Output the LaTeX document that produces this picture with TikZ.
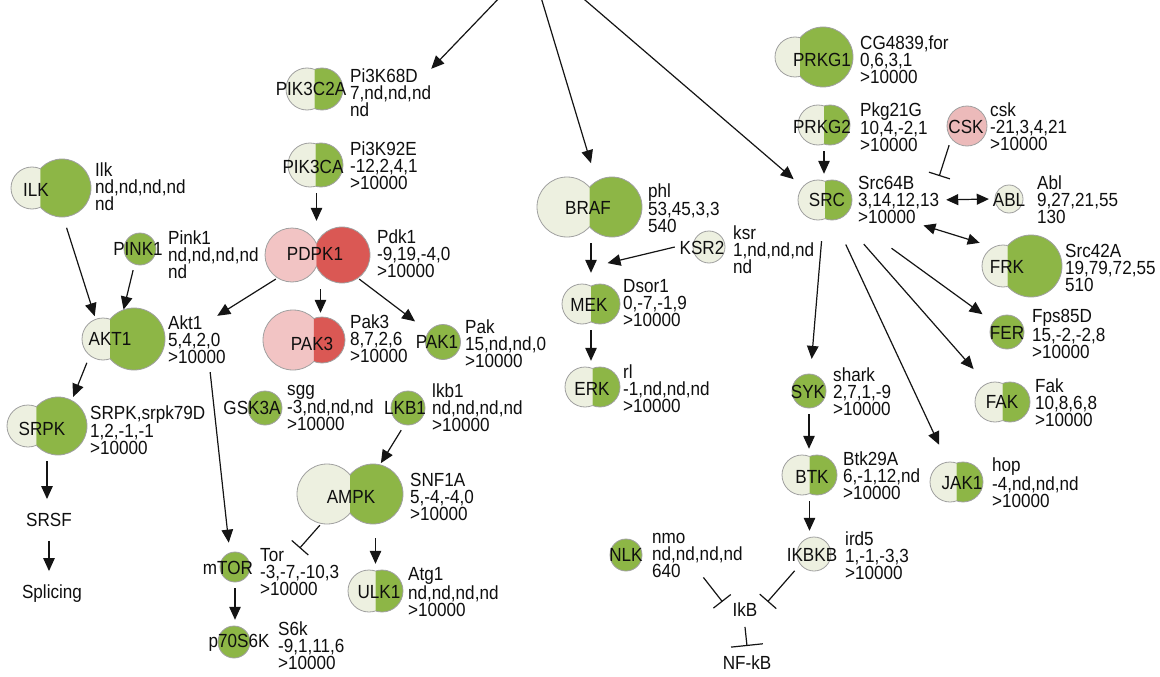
\documentclass[tikz,border=0pt]{standalone}
\usepackage{fontspec}
\setmainfont{Liberation Sans}[FakeStretch=0.9]
\usetikzlibrary{arrows.meta,shapes.geometric,calc}
\definecolor{gfill}{RGB}{141,182,70}
\definecolor{lfill}{RGB}{237,240,224}
\definecolor{pfill}{RGB}{242,196,196}
\definecolor{rfill}{RGB}{218,88,84}
\definecolor{cskfill}{RGB}{236,186,186}
\definecolor{ringgray}{RGB}{160,160,160}
\definecolor{linecol}{RGB}{20,20,20}
\definecolor{txt}{RGB}{15,15,15}
\newcommand\gfont{\fontsize{19}{17}\selectfont}
% two overlapping circles split along their common chord
\newcommand\genepair[7]{%
  \pgfmathsetmacro\gpxc{#1+((#4-#1)*(#4-#1)+#3*#3-#5*#5)/(2*(#4-#1))}%
  \begin{scope}
    \clip (0,-10) rectangle (\gpxc,700);
    \fill[#6] (#1,#2) circle[radius=#3pt];
    \draw[ring] (#1,#2) circle[radius=#3pt];
  \end{scope}
  \begin{scope}
    \clip (\gpxc,-10) rectangle (1200,700);
    \fill[#7] (#4,#2) circle[radius=#5pt];
    \draw[ring] (#4,#2) circle[radius=#5pt];
  \end{scope}}
\newcommand\genesingle[4]{%
  \fill[#4] (#1,#2) circle[radius=#3pt];
  \draw[ring] (#1,#2) circle[radius=#3pt];}
\tikzset{
  ring/.style={draw=ringgray, line width=0.8pt},
  gnode/.style={ellipse, inner sep=0pt, draw=none},
  glab/.style={inner sep=0pt, text height=13.5pt, text depth=0pt, font=\gfont, text=txt},
  info/.style={inner sep=0pt, align=left, anchor=west, font=\gfont, text=txt},
  plain/.style={inner xsep=10pt, inner ysep=14pt, text height=13.5pt, text depth=0pt, font=\gfont, text=txt},
  arr/.style={draw=linecol, line width=1.2pt, -{Triangle[length=13pt,width=11.5pt]}},
  darr/.style={draw=linecol, line width=1.2pt, {Triangle[length=12pt,width=11pt]}-{Triangle[length=12pt,width=11pt]}},
  inh/.style={draw=linecol, line width=1.2pt, -{Bar[width=22pt,line width=1.2pt]}},
}
\begin{document}
\begin{tikzpicture}[x=1pt,y=-1pt]
\useasboundingbox (0,0) rectangle (1160,677);
\fill[white] (0,0) rectangle (1160,677);

% ---------- circles ----------
\genepair{307}{89}{21}{322}{21}{lfill}{gfill}      % PIK3C2A
\genepair{310}{165}{22}{321}{22}{lfill}{gfill}     % PIK3CA
\genepair{32}{188}{21}{62}{29}{lfill}{gfill}       % ILK
\genesingle{140}{249}{16}{gfill}                   % PINK1
\genepair{292}{255}{27}{342}{28}{pfill}{rfill}     % PDPK1
\genepair{103}{339}{21}{134}{31}{lfill}{gfill}     % AKT1
\genepair{293}{340}{30}{322}{23}{pfill}{rfill}     % PAK3
\genesingle{443}{342}{17.5}{gfill}                 % PAK1
\genepair{28}{426}{21}{58}{29}{lfill}{gfill}       % SRPK
\genesingle{265}{408}{17}{gfill}                   % GSK3A
\genesingle{408}{408}{17}{gfill}                   % LKB1
\genepair{327}{494}{30}{373}{30}{lfill}{gfill}     % AMPK
\genepair{369}{591}{21}{382}{21}{lfill}{gfill}     % ULK1
\genesingle{235}{567}{15}{gfill}                   % mTOR
\genesingle{234}{642}{16}{gfill}                   % p70S6K
\genepair{567}{207}{30}{612}{30}{lfill}{gfill}     % BRAF
\genesingle{709}{247}{16}{lfill}                   % KSR2
\genepair{582}{304}{20}{600}{20}{lfill}{gfill}     % MEK
\genepair{585}{387}{20}{600}{20}{lfill}{gfill}     % ERK
\genepair{795}{57}{20}{823}{30}{lfill}{gfill}      % PRKG1
\genepair{818}{125}{20}{830}{20}{lfill}{gfill}     % PRKG2
\genesingle{967}{126}{20}{cskfill}                 % CSK
\genepair{818}{200}{20}{832}{20}{lfill}{gfill}     % SRC
\genesingle{1009}{199}{14}{lfill}                  % ABL
\genepair{1003}{266}{21}{1031}{31}{lfill}{gfill}   % FRK
\genesingle{1007}{332}{17}{gfill}                  % FER
\genepair{995}{402}{20}{1010}{20}{lfill}{gfill}    % FAK
\genepair{950}{482}{20}{963}{20}{lfill}{gfill}     % JAK1
\genesingle{809}{391}{17}{gfill}                   % SYK
\genepair{802}{475}{20}{817}{20}{lfill}{gfill}     % BTK
\genesingle{814}{554}{17}{lfill}                   % IKBKB
\genesingle{626}{555}{16}{gfill}                   % NLK

% ---------- gene nodes (outline areas used by connectors) ----------
\node[gnode,minimum width=69pt,minimum height=54pt] (PIK3C2A) at (314.5,89) {};
\node[gnode,minimum width=65pt,minimum height=56pt] (PIK3CA) at (316.5,165) {};
\node[gnode,minimum width=92pt,minimum height=71pt] (ILK) at (51,188) {};
\node[gnode,minimum width=44pt,minimum height=44pt] (PINK1) at (140,249) {};
\node[gnode,minimum width=117pt,minimum height=68pt] (PDPK1) at (317.5,255) {};
\node[gnode,minimum width=95pt,minimum height=74pt] (AKT1) at (123.5,339) {};
\node[gnode,minimum width=94pt,minimum height=72pt] (PAK3) at (304,340) {};
\node[gnode,minimum width=47pt,minimum height=47pt] (PAK1) at (443,342) {};
\node[gnode,minimum width=92pt,minimum height=70pt] (SRPK) at (47,426) {};
\node[gnode,minimum width=46pt,minimum height=46pt] (GSK3A) at (265,408) {};
\node[gnode,minimum width=46pt,minimum height=46pt] (LKB1) at (408,408) {};
\node[gnode,minimum width=118pt,minimum height=72pt] (AMPK) at (350,494) {};
\node[gnode,minimum width=67pt,minimum height=54pt] (ULK1) at (375.5,591) {};
\node[gnode,minimum width=42pt,minimum height=42pt] (mTOR) at (235,567) {};
\node[gnode,minimum width=44pt,minimum height=44pt] (p70S6K) at (234,642) {};
\node[gnode,minimum width=117pt,minimum height=72pt] (BRAF) at (589.5,207) {};
\node[gnode,minimum width=68pt,minimum height=44pt] (KSR2) at (709,247) {};
\node[gnode,minimum width=70pt,minimum height=52pt] (MEK) at (591,304) {};
\node[gnode,minimum width=67pt,minimum height=52pt] (ERK) at (592.5,387) {};
\node[gnode,minimum width=90pt,minimum height=72pt] (PRKG1) at (814,57) {};
\node[gnode,minimum width=64pt,minimum height=52pt] (PRKG2) at (824,125) {};
\node[gnode,minimum width=52pt,minimum height=52pt] (CSK) at (967,126) {};
\node[gnode,minimum width=66pt,minimum height=52pt] (SRC) at (825,200) {};
\node[gnode,minimum width=40pt,minimum height=40pt] (ABL) at (1009,199) {};
\node[gnode,minimum width=92pt,minimum height=74pt] (FRK) at (1022,266) {};
\node[gnode,minimum width=46pt,minimum height=46pt] (FER) at (1007,332) {};
\node[gnode,minimum width=67pt,minimum height=52pt] (FAK) at (1002.5,402) {};
\node[gnode,minimum width=65pt,minimum height=52pt] (JAK1) at (956.5,482) {};
\node[gnode,minimum width=46pt,minimum height=46pt] (SYK) at (809,391) {};
\node[gnode,minimum width=67pt,minimum height=52pt] (BTK) at (809.5,475) {};
\node[gnode,minimum width=56pt,minimum height=46pt] (IKBKB) at (814,554) {};
\node[gnode,minimum width=44pt,minimum height=44pt] (NLK) at (626,555) {};

% ---------- gene names ----------
\node[glab] (PIK3C2A-l) at (311,89) {PIK3C2A};
\node[glab] (PIK3CA-l) at (313,167) {PIK3CA};
\node[glab] (ILK-l) at (36,190) {ILK};
\node[glab] (PINK1-l) at (138,249) {PINK1};
\node[glab] (PDPK1-l) at (315,254) {PDPK1};
\node[glab] (AKT1-l) at (110,339) {AKT1};
\node[glab] (PAK3-l) at (312,344) {PAK3};
\node[glab] (PAK1-l) at (437,342) {PAK1};
\node[glab] (SRPK-l) at (42,429) {SRPK};
\node[glab] (GSK3A-l) at (252,408) {GSK3A};
\node[glab] (LKB1-l) at (405,408) {LKB1};
\node[glab] (AMPK-l) at (351,497) {AMPK};
\node[glab] (ULK1-l) at (379,592) {ULK1};
\node[glab] (mTOR-l) at (228,568) {mTOR};
\node[glab] (p70S6K-l) at (239,641) {p70S6K};
\node[glab] (BRAF-l) at (588,208) {BRAF};
\node[glab] (KSR2-l) at (702,248) {KSR2};
\node[glab] (MEK-l) at (589,305) {MEK};
\node[glab] (ERK-l) at (592,389) {ERK};
\node[glab] (PRKG1-l) at (822,60) {PRKG1};
\node[glab] (PRKG2-l) at (822,127) {PRKG2};
\node[glab] (CSK-l) at (966,127) {CSK};
\node[glab] (SRC-l) at (827,200) {SRC};
\node[glab] (ABL-l) at (1009,200) {ABL};
\node[glab] (FRK-l) at (1007,267) {FRK};
\node[glab] (FER-l) at (1007,333) {FER};
\node[glab] (FAK-l) at (1002,402) {FAK};
\node[glab] (JAK1-l) at (962,483) {JAK1};
\node[glab] (SYK-l) at (808,392) {SYK};
\node[glab] (BTK-l) at (812,477) {BTK};
\node[glab] (IKBKB-l) at (812,555) {IKBKB};
\node[glab] (NLK-l) at (626,555) {NLK};

% ---------- info texts ----------
\node[info] (PIK3C2A-i) at (350,93) {Pi3K68D\\7,nd,nd,nd\\nd};
\node[info] (PIK3CA-i) at (350,166) {Pi3K92E\\-12,2,4,1\\>10000};
\node[info] (ILK-i) at (95,187) {Ilk\\nd,nd,nd,nd\\nd};
\node[info] (PINK1-i) at (168,255) {Pink1\\nd,nd,nd,nd\\nd};
\node[info] (PDPK1-i) at (377,254) {Pdk1\\-9,19,-4,0\\>10000};
\node[info] (AKT1-i) at (168,340) {Akt1\\5,4,2,0\\>10000};
\node[info] (PAK3-i) at (350,339) {Pak3\\8,7,2,6\\>10000};
\node[info] (PAK1-i) at (465,344) {Pak\\15,nd,nd,0\\>10000};
\node[info] (SRPK-i) at (90,430) {SRPK,srpk79D\\1,2,-1,-1\\>10000};
\node[info] (GSK3A-i) at (287,408) {sgg\\-3,nd,nd,nd\\>10000};
\node[info] (LKB1-i) at (432,408) {lkb1\\nd,nd,nd,nd\\>10000};
\node[info] (AMPK-i) at (410,497) {SNF1A\\5,-4,-4,0\\>10000};
\node[info] (ULK1-i) at (408,592) {Atg1\\nd,nd,nd,nd\\>10000};
\node[info] (mTOR-i) at (260,572) {Tor\\-3,-7,-10,3\\>10000};
\node[info] (p70S6K-i) at (278,646) {S6k\\-9,1,11,6\\>10000};
\node[info] (BRAF-i) at (648,208) {phl\\53,45,3,3\\540};
\node[info] (KSR2-i) at (733,250) {ksr\\1,nd,nd,nd\\nd};
\node[info] (MEK-i) at (623,303) {Dsor1\\0,-7,-1,9\\>10000};
\node[info] (ERK-i) at (623,389) {rl\\-1,nd,nd,nd\\>10000};
\node[info] (PRKG1-i) at (860,60) {CG4839,for\\0,6,3,1\\>10000};
\node[info] (PRKG2-i) at (860,127) {Pkg21G\\10,4,-2,1\\>10000};
\node[info] (CSK-i) at (990,127) {csk\\-21,3,4,21\\>10000};
\node[info] (SRC-i) at (858,200) {Src64B\\3,14,12,13\\>10000};
\node[info] (ABL-i) at (1037,200) {Abl\\9,27,21,55\\130};
\node[info] (FRK-i) at (1065,268) {Src42A\\19,79,72,55\\510};
\node[info] (FER-i) at (1032,334) {Fps85D\\15,-2,-2,8\\>10000};
\node[info] (FAK-i) at (1035,403) {Fak\\10,8,6,8\\>10000};
\node[info] (JAK1-i) at (992,483) {hop\\-4,nd,nd,nd\\>10000};
\node[info] (SYK-i) at (833,392) {shark\\2,7,1,-9\\>10000};
\node[info] (BTK-i) at (843,476) {Btk29A\\6,-1,12,nd\\>10000};
\node[info] (IKBKB-i) at (845,556) {ird5\\1,-1,-3,3\\>10000};
\node[info] (NLK-i) at (652,555) {nmo\\nd,nd,nd,nd\\640};

% ---------- plain labels ----------
\node[plain] (SRSF) at (49,520) {SRSF};
\node[plain] (Splicing) at (52,592) {Splicing};
\node[plain, inner ysep=10pt] (IkB) at (745,610) {IkB};
\node[plain, inner ysep=10pt] (NFkB) at (747,663) {NF-kB};

% ---------- connectors ----------
\coordinate (top1) at (503,-6);
\coordinate (top2) at (540,-6);
\coordinate (top3) at (578,-6);
\draw[arr] (top1) -- (PIK3C2A-i.north east);
\draw[arr, shorten >=8pt] (top2) -- (BRAF.84);
\draw[arr, shorten >=7pt] (top3) -- (SRC.148);

\draw[arr, shorten <=6pt, shorten >=-6pt] (ILK.-68) -- (AKT1.137);
\draw[arr, shorten >=-8pt] (PINK1.-108) -- (AKT1.87);
\draw[arr] (PDPK1.210) -- (AKT1-i.50);
\draw[arr, shorten >=-9pt] (PDPK1.-85) -- (PDPK1.-85 |- PAK3.north);
\draw[arr, shorten >=11pt] (PDPK1.-30) -- (PAK1.144);
\draw[arr] (PIK3CA.south) -- (PIK3CA.south |- PDPK1.north);
\draw[arr] (AKT1.213) -- (SRPK.48);
\draw[arr] (SRPK.south) -- (SRPK.south |- SRSF.north);
\draw[arr] (SRSF.south) -- (SRSF.south |- Splicing.north);
\draw[arr, shorten <=8pt, shorten >=4pt] (AKT1-i.-63) -- (mTOR.106);
\draw[arr] (mTOR.south) -- (mTOR.south |- p70S6K.north);
\draw[arr] (LKB1.-107) -- (AMPK.45);
\draw[inh] (AMPK.226) -- (mTOR-i.north);
\draw[arr, shorten <=8pt] (ULK1.north |- AMPK.south) -- (ULK1.north);

\coordinate (mekarr) at (MEK.north |- BRAF.south);
\draw[arr, shorten >=5pt] (mekarr) -- (MEK.north);
\coordinate (mekin) at ($(mekarr)!0.69!(MEK.north)$);
\draw[arr, shorten >=17pt] (KSR2.west) -- (mekin);
\draw[arr] (MEK.south) -- (MEK.south |- ERK.north);

\draw[arr] (PRKG2.south) -- (PRKG2.south |- SRC.north);
\draw[inh] (CSK.227) -- (SRC-i.north east);
\draw[darr, shorten <=7pt] (SRC-i.east) -- (ABL.west);
\draw[darr, shorten <=5pt, shorten >=5pt] (SRC-i.-50) -- (FRK.150);
\draw[arr, shorten <=52pt, shorten >=7pt] (SRC) -- (FER);
\draw[arr, shorten <=30pt, shorten >=15pt] (SRC) -- (FAK);
\draw[arr, shorten <=22pt, shorten >=14pt] (SRC) -- (JAK1);
\draw[arr, shorten <=15pt, shorten >=9pt] (SRC) -- (SYK);
\draw[arr] (SYK.south) -- (SYK.south |- BTK.north);
\draw[arr] (BTK.south) -- (BTK.south |- IKBKB.north);
\draw[inh] (IKBKB.221) -- (IkB.20);
\draw[inh] (NLK-i.-75) -- (IkB.160);
\draw[inh, -{Bar[width=32pt,line width=1.2pt]}] (IkB.south) -- (NFkB.north);
\end{tikzpicture}
\end{document}
